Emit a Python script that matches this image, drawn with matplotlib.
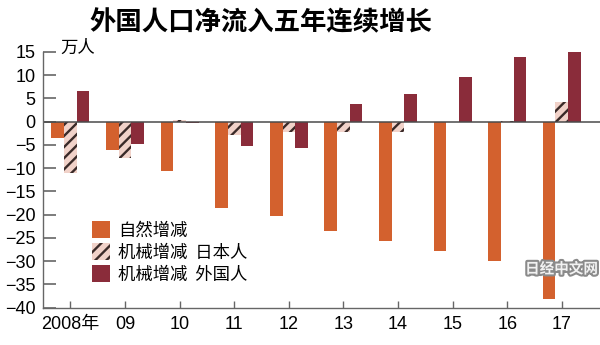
import numpy as np
import matplotlib
matplotlib.use("Agg")
import matplotlib.pyplot as plt
import matplotlib.patheffects as pe

plt.rcParams['font.family'] = ['Noto Sans CJK SC', 'DejaVu Sans']
plt.rcParams['hatch.linewidth'] = 1.7

num_font = 'Liberation Sans'

# data (万人)
years = ['2008年', '09', '10', '11', '12', '13', '14', '15', '16', '17']
natural = [-3.6, -6.1, -10.6, -18.5, -20.3, -23.5, -25.6, -27.8, -30.0, -38.1]
social_jp = [-11.1, -7.9, 0.3, -2.9, -2.2, -2.3, -2.3, -0.2, 0.1, 4.1]
social_fg = [6.5, -4.8, -0.4, -5.2, -5.7, 3.7, 6.0, 9.6, 13.8, 14.9]
labels = ['自然增减', '机械增减  日本人', '机械增减  外国人']

c_orange = '#d3612e'
c_pink = '#f1d2c9'
c_dark = '#8a2c3a'

fig = plt.figure(figsize=(6, 3.45), dpi=100)
ax = fig.add_axes([0.072, 0.108, 0.928, 0.742])

x = np.arange(len(years))
w = 0.232
ax.bar(x - w, natural, w, color=c_orange, label=labels[0])
ax.bar(x, social_jp, w, color=c_pink, hatch='///', edgecolor='#3a2a28', linewidth=0, label=labels[1])
ax.bar(x + w, social_fg, w, color=c_dark, label=labels[2])

ax.axhline(0, color='#4a4a4a', lw=1.1)
ax.set_xlim(-0.5, 9.7)
ax.set_ylim(-40, 15)
ax.set_yticks(np.arange(-40, 16, 5))
ax.set_xticks(x)
ax.set_xticklabels(years)

for s in ['top', 'right']:
    ax.spines[s].set_visible(False)
for s in ['left', 'bottom']:
    ax.spines[s].set_color('#666666')
    ax.spines[s].set_linewidth(1.0)

ax.tick_params(axis='y', direction='in', length=9, width=1.2, color='#666666', pad=5.5)
ax.tick_params(axis='x', direction='in', length=5, width=1.0, color='#666666', pad=6)
for t in ax.get_yticklabels():
    t.set_fontfamily(num_font)
    t.set_fontsize(13)
for t in ax.get_xticklabels():
    t.set_fontfamily([num_font, 'Noto Sans CJK SC'])
    t.set_fontsize(13)

ax.text(0.03, 1.015, '万人', transform=ax.transAxes, fontsize=12.5, va='center', ha='left')

fig.text(0.435, 0.934, '外国人口净流入五年连续增长', fontsize=19, fontweight='bold',
         ha='center', va='center')

ax.legend(loc='upper left', bbox_to_anchor=(0.075, 0.365), frameon=False, fontsize=12.5,
          handlelength=1.05, handleheight=1.1, handletextpad=0.45, labelspacing=0.22,
          borderaxespad=0)

fig.text(0.997, 0.222, '日经中文网', fontsize=10.5, fontweight='bold', color='#f2f2f2',
         ha='right', va='center',
         path_effects=[pe.withStroke(linewidth=3, foreground='#8a8a8a')])

fig.savefig('out.png', dpi=100)
